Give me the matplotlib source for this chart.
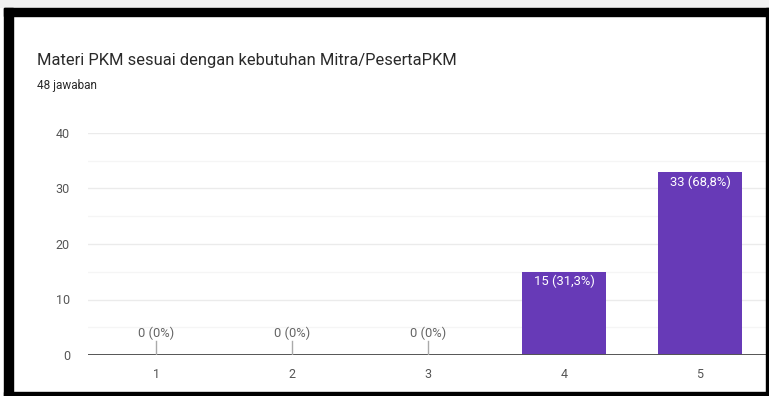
import numpy as np
import matplotlib.pyplot as plt
from matplotlib.patches import Rectangle

plt.rcParams['font.family'] = ['Roboto', 'DejaVu Sans']

categories = ['1', '2', '3', '4', '5']
counts = [0, 0, 0, 15, 33]
labels = ['0 (0%)', '0 (0%)', '0 (0%)', '15 (31,3%)', '33 (68,8%)']
yticks = [0, 10, 20, 30, 40]

purple = '#673ab7'
W, H = 769, 396

fig = plt.figure(figsize=(W / 100, H / 100), dpi=100)
fig.patch.set_facecolor('white')

ax = fig.add_axes([88 / W, (H - 355) / H, (768 - 88) / W, (355 - 133) / H])
x = np.arange(1, len(categories) + 1)

ax.set_xlim(0.5, 5.5)
ax.set_ylim(0, 40)
# light grid, with faint half steps
for v in np.arange(5, 41, 5):
    ax.axhline(v, color='#ebebeb' if v % 10 == 0 else '#f5f5f5', lw=1, zorder=0)

bars = ax.bar(x, counts, width=0.62, color=purple, zorder=2)
ax.axhline(0, color='#555555', lw=1.4, zorder=3)

for xi, c, lab in zip(x, counts, labels):
    if c == 0:
        ax.plot([xi, xi], [0, 2.6], color='#aaaaaa', lw=1, zorder=3)
        ax.text(xi, 3.9, lab, ha='center', va='center', fontsize=9.4, color='#666666')
    else:
        ax.text(xi, c - 0.6, lab, ha='center', va='top', fontsize=9.4, color='white')

ax.set_xticks(x)
ax.set_xticklabels(categories)
ax.set_yticks(yticks)
ax.tick_params(length=0, labelsize=9, colors='#555555')
ax.tick_params(axis='y', pad=13)
ax.tick_params(axis='x', pad=9)
for s in ax.spines.values():
    s.set_visible(False)

fig.text(37 / W, 1 - 60 / H, 'Materi PKM sesuai dengan kebutuhan Mitra/PesertaPKM',
         fontsize=11.9, color='#2a2a2a', va='center', ha='left')
fig.text(37 / W, 1 - 85 / H, '48 jawaban', fontsize=8.5, color='#2a2a2a', va='center', ha='left')

# frame around the card
fig.patches.append(Rectangle((0, 1 - 7 / H), 1, 7 / H, transform=fig.transFigure,
                             color='#f2f2f2', zorder=5))
fig.patches.append(Rectangle((4 / W, 1 - 16 / H), 1, 8 / H, transform=fig.transFigure,
                             color='black', zorder=5))
fig.patches.append(Rectangle((4 / W, 0), 9 / W, 1 - 8 / H, transform=fig.transFigure,
                             color='black', zorder=5))
fig.patches.append(Rectangle((4 / W, 0), 1, 4 / H, transform=fig.transFigure,
                             color='black', zorder=5))
fig.patches.append(Rectangle((766 / W, 0), 3 / W, 1 - 8 / H, transform=fig.transFigure,
                             color='black', zorder=5))

fig.savefig('out.png', dpi=100)
